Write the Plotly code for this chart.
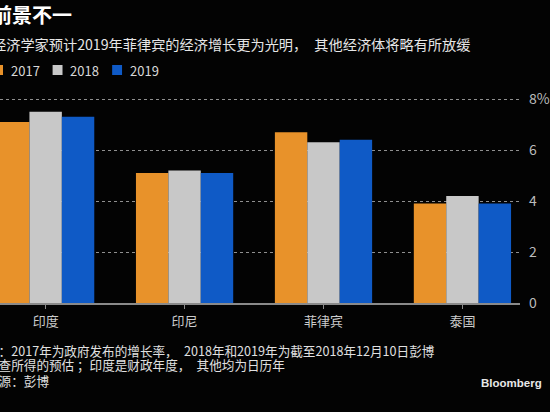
import plotly.graph_objects as go

countries = ["印度", "印尼", "菲律宾", "泰国"]
years = ["2017", "2018", "2019"]
growth_2017 = [7.1, 5.1, 6.7, 3.9]
growth_2018 = [7.5, 5.2, 6.3, 4.2]
growth_2019 = [7.3, 5.1, 6.4, 3.9]
y_tickvals = [0, 2, 4, 6, 8]
y_ticktext = ["0", "2", "4", "6", "8%"]

colors = ["#E8922A", "#C8C8C8", "#0F5AC6"]
series = [growth_2017, growth_2018, growth_2019]

W, H = 550, 412
ML, MR, MT, MB = 0, 26, 94, 109
PW, PH = W - ML - MR, H - MT - MB
CJK = "Noto Sans CJK SC"


def px(x):
    return (x - ML) / PW


def py(y):
    return (H - MB - y) / PH


fig = go.Figure()
for name, vals, c in zip(years, series, colors):
    fig.add_trace(go.Bar(x=countries, y=vals, name=name, marker_color=c,
                         marker_line_width=0, showlegend=False))

annotations = []
shapes = []


def text(s, x, y, size, color, bold=False, family=CJK):
    annotations.append(dict(
        text=f"<b>{s}</b>" if bold else s, xref="paper", yref="paper",
        x=px(x), y=py(y), xanchor="left", yanchor="middle", showarrow=False,
        font=dict(size=size, color=color, family=family)))


text("前景不一", -10, 15, 20, "#ffffff", bold=True)
text("经济学家预计2019年菲律宾的经济增长更为光明，　其他经济体将略有所放缓", -10, 44, 14.2, "#e6e6e6")

# legend
leg_x = [-7, 53, 113]
for lx, name, c in zip(leg_x, years, colors):
    shapes.append(dict(type="rect", xref="paper", yref="paper",
                       x0=px(lx), x1=px(lx + 10), y0=py(75), y1=py(65),
                       fillcolor=c, line_width=0))
    text(name, lx + 16, 70, 13, "#d8d8d8")

text("注：2017年为政府发布的增长率，　2018年和2019年为截至2018年12月10日彭博", -16, 350, 12.6, "#e0e0e0")
text("调查所得的预估 ；印度是财政年度，　其他均为日历年", -16, 364.5, 12.6, "#e0e0e0")
text("来源：彭博", -16, 380, 12.6, "#e0e0e0")
text("Bloomberg", 483, 383, 11.5, "#e8e8e8", bold=True, family="Liberation Sans")

fig.update_layout(
    width=W, height=H, autosize=False,
    margin=dict(l=ML, r=MR, t=MT, b=MB, pad=0),
    paper_bgcolor="#030303", plot_bgcolor="#030303",
    barmode="group", bargap=0.3, bargroupgap=0,
    annotations=annotations, shapes=shapes,
    xaxis=dict(type="category", range=[-46 / 140, -46 / 140 + PW / 140],
               showline=True, linecolor="#8a8a8a", linewidth=1.5,
               ticks="outside", ticklen=4, tickcolor="#8a8a8a", tickwidth=1,
               showgrid=False, zeroline=False, ticklabelstandoff=2,
               tickfont=dict(size=13, color="#cccccc", family=CJK)),
    yaxis=dict(side="right", range=[0, PH / 25.5], tickvals=y_tickvals,
               ticktext=y_ticktext, showgrid=True, gridcolor="#8f8f8f",
               griddash="dot", gridwidth=1, zeroline=False, showline=False,
               ticks="", ticklabelstandoff=8,
               tickfont=dict(size=14, color="#bbbbbb", family=CJK)),
)

fig.write_html(
    "out.html",
    config={"displayModeBar": False},
    post_script="document.body.style.margin='0';document.body.style.overflow='hidden';"
                "document.body.style.background='#030303';",
)
